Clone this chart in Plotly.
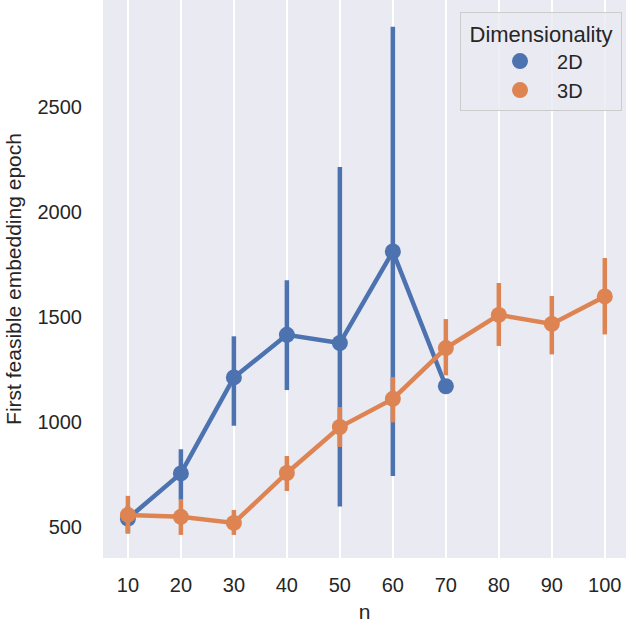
import plotly.graph_objects as go

# Category labels for n
n_labels = ["10", "20", "30", "40", "50", "60", "70", "80", "90", "100"]

# 2D: mean first feasible epoch and 95% CI bounds
n_2d = ["10", "20", "30", "40", "50", "60", "70"]
mean_2d = [540, 755, 1212, 1415, 1376, 1812, 1170]
lo_2d = [470, 630, 982, 1152, 597, 743, 1170]
hi_2d = [600, 870, 1408, 1675, 2215, 2882, 1170]

# 3D: mean first feasible epoch and 95% CI bounds
n_3d = ["10", "20", "30", "40", "50", "60", "70", "80", "90", "100"]
mean_3d = [557, 548, 519, 757, 976, 1110, 1352, 1510, 1467, 1598]
lo_3d = [468, 462, 462, 671, 881, 998, 1222, 1362, 1322, 1417]
hi_3d = [648, 633, 581, 838, 1071, 1214, 1490, 1662, 1600, 1781]

series = [
    ("2D", n_2d, mean_2d, lo_2d, hi_2d, "#4C72B0"),
    ("3D", n_3d, mean_3d, lo_3d, hi_3d, "#DD8452"),
]

fig = go.Figure()
for name, xs, ys, lo, hi, color in series:
    fig.add_trace(go.Scatter(
        x=xs, y=ys, mode="lines+markers", name=name, showlegend=False,
        line=dict(color=color, width=4.5),
        marker=dict(color=color, size=16),
        error_y=dict(
            type="data", symmetric=False,
            array=[h - m for h, m in zip(hi, ys)],
            arrayminus=[m - l for m, l in zip(ys, lo)],
            color=color, thickness=4.5, width=0,
        ),
    ))
# Legend entries (marker only)
for name, xs, ys, lo, hi, color in series:
    fig.add_trace(go.Scatter(
        x=[None], y=[None], mode="markers", name=name,
        marker=dict(color=color, size=16),
    ))

font_family = "Liberation Sans, Arial, sans-serif"
fig.update_layout(
    width=626, height=623,
    margin=dict(l=103, r=0, t=0, b=65),
    paper_bgcolor="white",
    plot_bgcolor="#EAEAF2",
    font=dict(family=font_family, size=20, color="#262626"),
    xaxis=dict(
        type="category", categoryorder="array", categoryarray=n_labels,
        range=[-0.47, 9.40],
        showgrid=True, gridcolor="white", gridwidth=1.5,
        zeroline=False, showline=False, ticks="",
        tickfont=dict(size=20),
        ticklabelstandoff=13,
        title=dict(text="n", font=dict(size=21), standoff=10),
    ),
    yaxis=dict(
        range=[352, 3010],
        tickvals=[500, 1000, 1500, 2000, 2500],
        showgrid=False, zeroline=False, showline=False, ticks="",
        tickfont=dict(size=20),
        ticklabelstandoff=20,
        title=dict(text="First feasible embedding epoch", font=dict(size=21), standoff=10),
    ),
    legend=dict(
        x=0.9924, y=0.9785, xanchor="right", yanchor="top",
        bgcolor="rgba(234,234,242,0.8)",
        bordercolor="#CCCCCC", borderwidth=1,
        title=dict(text="\u00a0Dimensionality\u00a0", side="top center", font=dict(size=22)),
        font=dict(size=20),
        indentation=22,
        itemwidth=64,
        tracegroupgap=0,
    ),
)

fig.write_html("out.html")
